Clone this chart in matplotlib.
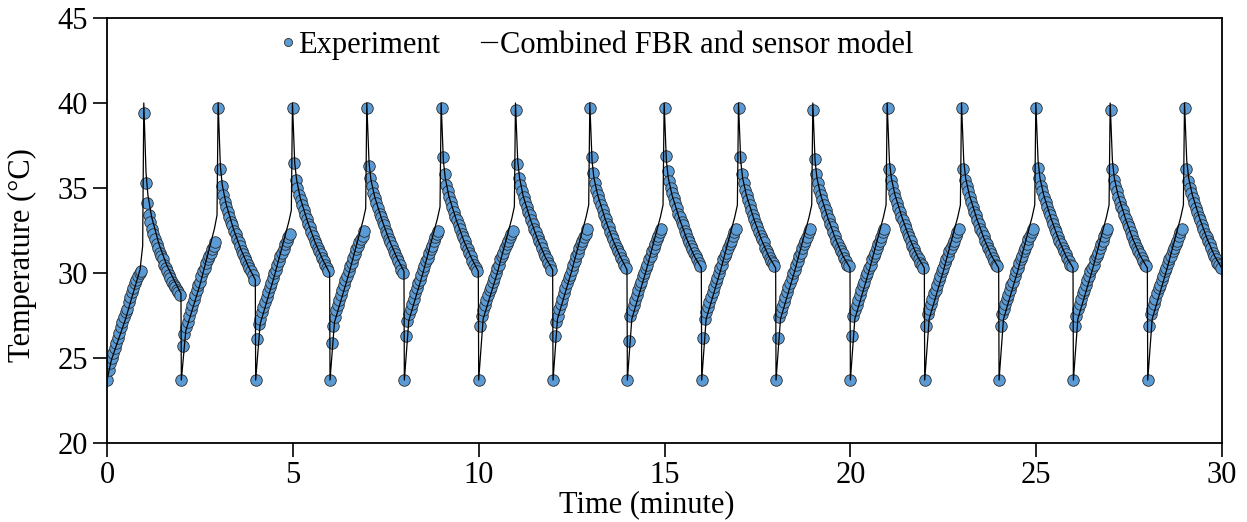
import numpy as np
import matplotlib
matplotlib.use('Agg')
import matplotlib.pyplot as plt

# start of each 2-minute heating/cooling cycle (minute)
cycle_start = [0, 2, 4, 6, 8, 10, 12, 14, 16, 18, 20, 22, 24, 26, 28]
base_temp = [23.7, 23.7, 23.7, 23.7, 23.7, 23.7, 23.7, 23.7, 23.7, 23.7, 23.7, 23.7, 23.7, 23.7, 23.7]
peak_temp = [39.4, 39.7, 39.7, 39.7, 39.7, 39.6, 39.7, 39.7, 39.7, 39.6, 39.7, 39.7, 39.7, 39.6, 39.7]

# experiment, heating part (one sample every 2.5 s after the cycle start)
heat_temp = [
    [24.3, 24.7, 25.0, 25.3, 25.6, 25.9, 26.2, 26.5, 26.8, 27.1, 27.4, 27.7, 27.9, 28.3, 28.6, 28.9, 29.1, 29.4, 29.6, 29.8, 30.0, 30.1],
    [25.7, 26.4, 26.8, 27.1, 27.5, 27.8, 28.1, 28.4, 28.7, 29.0, 29.3, 29.5, 29.8, 30.1, 30.3, 30.6, 30.8, 31.0, 31.2, 31.4, 31.6, 31.8],
    [26.1, 27.0, 27.3, 27.7, 28.0, 28.3, 28.6, 28.9, 29.2, 29.4, 29.7, 30.0, 30.2, 30.5, 30.7, 31.0, 31.2, 31.4, 31.7, 31.9, 32.1, 32.3],
    [25.9, 26.9, 27.4, 27.8, 28.1, 28.4, 28.7, 29.0, 29.3, 29.6, 29.8, 30.1, 30.4, 30.6, 30.9, 31.1, 31.4, 31.6, 31.8, 32.0, 32.2, 32.5],
    [26.3, 27.2, 27.6, 27.9, 28.2, 28.5, 28.8, 29.1, 29.4, 29.6, 29.9, 30.2, 30.4, 30.7, 30.9, 31.2, 31.4, 31.6, 31.9, 32.1, 32.3, 32.5],
    [26.9, 27.5, 27.8, 28.1, 28.4, 28.7, 29.0, 29.2, 29.5, 29.7, 30.0, 30.3, 30.5, 30.8, 31.0, 31.2, 31.5, 31.7, 31.9, 32.1, 32.3, 32.5],
    [26.3, 27.1, 27.5, 27.9, 28.2, 28.5, 28.8, 29.1, 29.4, 29.7, 29.9, 30.2, 30.5, 30.7, 31.0, 31.2, 31.5, 31.7, 31.9, 32.1, 32.3, 32.6],
    [26.0, 27.5, 27.8, 28.1, 28.4, 28.7, 29.0, 29.3, 29.5, 29.8, 30.0, 30.3, 30.5, 30.8, 31.0, 31.3, 31.5, 31.7, 32.0, 32.2, 32.4, 32.6],
    [26.2, 27.3, 27.7, 28.0, 28.3, 28.6, 28.9, 29.2, 29.5, 29.7, 30.0, 30.3, 30.5, 30.8, 31.0, 31.2, 31.5, 31.7, 31.9, 32.2, 32.4, 32.6],
    [26.2, 27.4, 27.7, 28.0, 28.3, 28.6, 28.9, 29.2, 29.4, 29.7, 30.0, 30.2, 30.5, 30.7, 31.0, 31.2, 31.5, 31.7, 31.9, 32.1, 32.4, 32.6],
    [26.3, 27.5, 27.8, 28.1, 28.4, 28.7, 29.0, 29.3, 29.5, 29.8, 30.0, 30.3, 30.5, 30.8, 31.0, 31.2, 31.5, 31.7, 31.9, 32.1, 32.4, 32.6],
    [26.9, 27.6, 27.9, 28.2, 28.5, 28.8, 29.0, 29.3, 29.6, 29.8, 30.1, 30.3, 30.6, 30.8, 31.0, 31.3, 31.5, 31.7, 31.9, 32.2, 32.4, 32.6],
    [26.9, 27.6, 27.9, 28.2, 28.5, 28.7, 29.0, 29.3, 29.5, 29.8, 30.1, 30.3, 30.6, 30.8, 31.0, 31.3, 31.5, 31.7, 32.0, 32.2, 32.4, 32.6],
    [26.9, 27.5, 27.9, 28.2, 28.5, 28.8, 29.0, 29.3, 29.6, 29.8, 30.1, 30.3, 30.5, 30.8, 31.0, 31.2, 31.5, 31.7, 31.9, 32.2, 32.4, 32.6],
    [26.9, 27.6, 27.9, 28.2, 28.5, 28.8, 29.1, 29.3, 29.6, 29.8, 30.1, 30.3, 30.6, 30.8, 31.0, 31.3, 31.5, 31.7, 31.9, 32.2, 32.4, 32.6],
]

# experiment, cooling part (after the peak)
cool_temp = [
    [35.3, 34.1, 33.4, 33.0, 32.6, 32.3, 32.0, 31.7, 31.5, 31.2, 31.0, 30.8, 30.5, 30.3, 30.1, 29.9, 29.7, 29.5, 29.3, 29.2, 29.0, 28.9, 28.7],
    [36.1, 35.1, 34.6, 34.2, 33.9, 33.6, 33.3, 33.0, 32.8, 32.5, 32.3, 32.0, 31.8, 31.6, 31.3, 31.1, 30.9, 30.7, 30.5, 30.3, 30.1, 29.9, 29.6],
    [36.5, 35.5, 35.0, 34.6, 34.3, 34.0, 33.7, 33.4, 33.2, 32.9, 32.7, 32.4, 32.2, 31.9, 31.7, 31.5, 31.3, 31.1, 30.9, 30.7, 30.5, 30.3, 30.1],
    [36.3, 35.6, 35.1, 34.7, 34.4, 34.1, 33.8, 33.5, 33.3, 33.0, 32.8, 32.5, 32.3, 32.0, 31.8, 31.6, 31.3, 31.1, 30.9, 30.7, 30.5, 30.2, 30.0],
    [36.8, 35.8, 35.2, 34.8, 34.5, 34.2, 33.9, 33.6, 33.3, 33.1, 32.8, 32.6, 32.3, 32.1, 31.9, 31.6, 31.4, 31.2, 31.0, 30.7, 30.5, 30.3, 30.1],
    [36.4, 35.6, 35.2, 34.8, 34.5, 34.2, 33.9, 33.6, 33.4, 33.1, 32.9, 32.6, 32.4, 32.1, 31.9, 31.7, 31.5, 31.2, 31.0, 30.8, 30.6, 30.4, 30.2],
    [36.8, 35.9, 35.3, 34.9, 34.6, 34.3, 34.0, 33.7, 33.4, 33.2, 32.9, 32.7, 32.4, 32.2, 32.0, 31.7, 31.5, 31.3, 31.1, 30.9, 30.7, 30.5, 30.3],
    [36.9, 36.0, 35.4, 35.0, 34.7, 34.4, 34.1, 33.8, 33.5, 33.3, 33.0, 32.8, 32.5, 32.3, 32.0, 31.8, 31.6, 31.4, 31.2, 31.0, 30.8, 30.6, 30.4],
    [36.8, 35.8, 35.3, 34.9, 34.6, 34.3, 34.0, 33.7, 33.4, 33.2, 32.9, 32.7, 32.4, 32.2, 32.0, 31.8, 31.5, 31.3, 31.1, 30.9, 30.7, 30.6, 30.4],
    [36.7, 35.8, 35.3, 34.9, 34.6, 34.3, 34.0, 33.7, 33.4, 33.2, 32.9, 32.7, 32.4, 32.2, 31.9, 31.7, 31.5, 31.3, 31.1, 30.9, 30.7, 30.5, 30.4],
    [36.1, 35.5, 35.1, 34.7, 34.4, 34.1, 33.8, 33.6, 33.3, 33.1, 32.8, 32.6, 32.3, 32.1, 31.9, 31.6, 31.4, 31.2, 31.0, 30.8, 30.6, 30.5, 30.3],
    [36.1, 35.5, 35.1, 34.8, 34.5, 34.2, 33.9, 33.6, 33.4, 33.1, 32.9, 32.6, 32.4, 32.2, 31.9, 31.7, 31.5, 31.3, 31.1, 30.9, 30.7, 30.5, 30.4],
    [36.2, 35.6, 35.1, 34.8, 34.5, 34.2, 33.9, 33.6, 33.4, 33.1, 32.9, 32.6, 32.4, 32.1, 31.9, 31.7, 31.5, 31.3, 31.1, 30.9, 30.7, 30.5, 30.4],
    [36.1, 35.5, 35.1, 34.8, 34.5, 34.2, 33.9, 33.7, 33.4, 33.2, 32.9, 32.7, 32.4, 32.2, 31.9, 31.7, 31.5, 31.3, 31.1, 30.9, 30.7, 30.5, 30.4],
    [36.1, 35.4, 35.0, 34.7, 34.4, 34.1, 33.8, 33.6, 33.3, 33.1, 32.8, 32.6, 32.3, 32.1, 31.9, 31.7, 31.5, 31.2, 31.0, 30.8, 30.6, 30.5, 30.3],
]

# combined FBR and sensor model, sampled at these offsets within every cycle
model_offset = [0.0, 0.12, 0.5, 0.89, 0.96, 0.99, 1.05, 1.1, 1.2, 1.4, 1.6, 1.8, 1.99]
model_temp = [
    [23.7, 24.9, 27.3, 30.2, 31.6, 40.0, 35.9, 34.6, 33.3, 31.7, 30.5, 29.6, 28.8],
    [23.7, 26.6, 29.3, 32.6, 33.4, 40.0, 36.3, 35.2, 34.1, 32.6, 31.4, 30.4, 29.6],
    [23.7, 27.0, 29.8, 33.0, 33.7, 40.0, 36.5, 35.5, 34.4, 33.0, 31.8, 30.8, 30.0],
    [23.7, 27.1, 29.9, 33.1, 33.8, 40.0, 36.5, 35.5, 34.5, 33.1, 31.9, 30.9, 30.1],
    [23.7, 27.2, 30.0, 33.2, 33.9, 40.0, 36.6, 35.6, 34.5, 33.1, 31.9, 30.9, 30.1],
    [23.7, 27.3, 30.0, 33.2, 33.9, 40.0, 36.6, 35.6, 34.5, 33.1, 31.9, 30.9, 30.2],
    [23.7, 27.3, 30.1, 33.3, 34.0, 40.0, 36.6, 35.6, 34.6, 33.2, 32.0, 31.0, 30.2],
    [23.7, 27.3, 30.1, 33.3, 34.0, 40.0, 36.6, 35.6, 34.6, 33.2, 32.0, 31.0, 30.3],
    [23.7, 27.3, 30.1, 33.3, 34.0, 40.0, 36.6, 35.6, 34.6, 33.2, 32.0, 31.0, 30.3],
    [23.7, 27.3, 30.1, 33.3, 34.0, 40.0, 36.6, 35.6, 34.6, 33.2, 32.0, 31.0, 30.3],
    [23.7, 27.3, 30.1, 33.3, 34.0, 40.0, 36.6, 35.6, 34.6, 33.2, 32.0, 31.0, 30.3],
    [23.7, 27.3, 30.1, 33.3, 34.0, 40.0, 36.6, 35.6, 34.6, 33.2, 32.0, 31.0, 30.3],
    [23.7, 27.3, 30.1, 33.3, 34.0, 40.0, 36.6, 35.6, 34.6, 33.2, 32.0, 31.0, 30.3],
    [23.7, 27.3, 30.1, 33.3, 34.0, 40.0, 36.6, 35.6, 34.6, 33.2, 32.0, 31.0, 30.3],
    [23.7, 27.3, 30.1, 33.3, 34.0, 40.0, 36.6, 35.6, 34.6, 33.2, 32.0, 31.0, 30.3],
]

x_ticks = [0, 5, 10, 15, 20, 25, 30]
y_ticks = [20, 25, 30, 35, 40, 45]

sample_step = 2.5 / 60.0  # minute

exp_t, exp_y, mod_t, mod_y = [], [], [], []
for i, t0 in enumerate(cycle_start):
    exp_t.append(t0)
    exp_y.append(base_temp[i])
    for k, v in enumerate(heat_temp[i]):
        exp_t.append(t0 + (k + 1) * sample_step)
        exp_y.append(v)
    exp_t.append(t0 + 1.0)
    exp_y.append(peak_temp[i])
    for k, v in enumerate(cool_temp[i]):
        exp_t.append(t0 + 1.0 + (k + 1) * sample_step)
        exp_y.append(v)
    for off, v in zip(model_offset, model_temp[i]):
        mod_t.append(t0 + off)
        mod_y.append(v)

plt.rcParams['font.family'] = ['Liberation Serif', 'DejaVu Serif']

fig = plt.figure(figsize=(12.47, 5.22), dpi=100)
ax = fig.add_axes([0.0858, 0.1513, 0.8942, 0.8142])

ax.plot(exp_t, exp_y, 'o', ms=8.3, mfc='#5B9BD5', mec='#2b2b2b', mew=0.6,
        label='Experiment', zorder=2)
ax.plot(mod_t, mod_y, '-', color='black', lw=0.9,
        label='Combined FBR and sensor model', zorder=3)

ax.set_xlim(0, 30)
ax.set_ylim(20, 45)
ax.set_xticks(x_ticks)
ax.set_yticks(y_ticks)
ax.tick_params(labelsize=22, width=1.2, length=10, direction='out')
ax.tick_params(axis='x', pad=3)
ax.tick_params(top=False, right=False)
for s in ax.spines.values():
    s.set_linewidth(1.3)

ax.set_xlabel('Time (minute)', fontsize=22)
ax.set_ylabel('Temperature (°C)', fontsize=22)
ax.xaxis.set_label_coords(0.484, -0.112)
ax.yaxis.set_label_coords(-0.063, 0.442)

leg = ax.legend(loc='center', bbox_to_anchor=(0.439, 0.935), ncol=2, frameon=False,
                fontsize=22, handlelength=0.5, handletextpad=0.1, columnspacing=1.35,
                markerscale=0.7)

fig.savefig('out.png', dpi=100)
